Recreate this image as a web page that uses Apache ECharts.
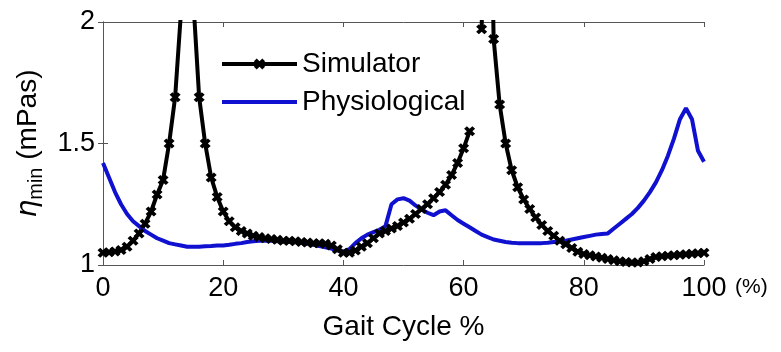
<!DOCTYPE html>
<html>
<head>
<meta charset="utf-8">
<script src="https://cdn.jsdelivr.net/npm/echarts@6/dist/echarts.min.js"></script>
<style>
  html, body { margin: 0; padding: 0; background: #fff; }
  #chart { width: 781px; height: 352px; }
</style>
</head>
<body>
<div id="chart"></div>
<script>
// gait cycle positions (%), one sample per percent
const gaitCycle = Array.from({ length: 101 }, (_, i) => i)

// simulator eta_min (mPas); values > 2 leave the plot
const simulator = [
  1.05, 1.052, 1.056, 1.062, 1.075, 1.10, 1.13, 1.17, 1.22, 1.29,
  1.35, 1.50, 1.69, 2.05, 3.00, 2.10, 1.69, 1.50, 1.36, 1.28,
  1.22, 1.18, 1.155, 1.14, 1.13, 1.12, 1.115, 1.11, 1.107, 1.104,
  1.10, 1.10, 1.098, 1.095, 1.093, 1.09, 1.09, 1.087, 1.08, 1.065,
  1.05, 1.05, 1.06, 1.075, 1.09, 1.11, 1.13, 1.14, 1.15, 1.16,
  1.175, 1.19, 1.21, 1.23, 1.25, 1.275, 1.30, 1.33, 1.37, 1.42,
  1.48, 1.55, null, 1.97, 3.20, 1.93, 1.66, 1.50, 1.39, 1.32,
  1.27, 1.23, 1.195, 1.165, 1.14, 1.12, 1.10, 1.085, 1.07, 1.055,
  1.045, 1.04, 1.035, 1.03, 1.025, 1.02, 1.015, 1.012, 1.01, 1.01,
  1.015, 1.025, 1.033, 1.036, 1.038, 1.04, 1.042, 1.044, 1.046, 1.048,
  1.05
]

// physiological eta_min (mPas)
const physiological = [
  1.42, 1.36, 1.30, 1.25, 1.21, 1.18, 1.16, 1.14, 1.125, 1.11,
  1.10, 1.09, 1.085, 1.08, 1.075, 1.075, 1.075, 1.077, 1.078, 1.08,
  1.08, 1.083, 1.087, 1.09, 1.095, 1.098, 1.10, 1.10, 1.10, 1.098,
  1.096, 1.095, 1.094, 1.09, 1.087, 1.083, 1.078, 1.073, 1.068, 1.06,
  1.055, 1.065, 1.09, 1.11, 1.125, 1.135, 1.145, 1.16, 1.25, 1.27,
  1.275, 1.265, 1.245, 1.228, 1.215, 1.205, 1.22, 1.225, 1.205, 1.185,
  1.17, 1.155, 1.14, 1.125, 1.115, 1.105, 1.10, 1.095, 1.092, 1.09,
  1.09, 1.09, 1.09, 1.09, 1.092, 1.095, 1.097, 1.10, 1.105, 1.11,
  1.115, 1.12, 1.125, 1.128, 1.13, 1.15, 1.17, 1.19, 1.21, 1.235,
  1.265, 1.30, 1.34, 1.39, 1.45, 1.52, 1.60, 1.645, 1.60, 1.47,
  1.425
]

const seriesNames = ['Simulator', 'Physiological']
const font = 'Liberation Sans, Arial, sans-serif'
const axisColor = '#555'
const blue = '#1010d0'

const pair = (vals) => gaitCycle.map((g, i) => [g, vals[i] === null ? '-' : vals[i]])

// bold cross marker, like the matlab one
const crossMark = 'path://M0,3 L3,0 L6,3 L9,0 L12,3 L9,6 L12,9 L9,12 L6,9 L3,12 L0,9 L3,6 Z'

const tickStyle = { inside: true, length: 5, lineStyle: { color: axisColor } }
const lineStyle = { show: true, lineStyle: { color: axisColor, width: 1 } }

let chart = echarts.init(document.getElementById('chart'))

let option = {
  animation: false,
  textStyle: { fontFamily: font },
  grid: { left: 103, right: 77, top: 22, bottom: 87, outerBoundsMode: 'none', containLabel: false },
  legend: {
    data: [
      { name: seriesNames[0] },
      { name: seriesNames[1], itemStyle: { opacity: 0 } },
    ],
    orient: 'vertical',
    left: 220,
    top: 50,
    padding: 0,
    itemWidth: 75,
    itemHeight: 14,
    itemGap: 10,
    lineStyle: { width: 4 },
    textStyle: { fontSize: 28, color: '#000', fontFamily: font },
  },
  xAxis: [
    {
      type: 'value',
      min: 0,
      max: 100,
      interval: 20,
      position: 'bottom',
      axisLine: lineStyle,
      axisTick: tickStyle,
      splitLine: { show: false },
      axisLabel: { color: '#000', fontSize: 27, margin: 10 },
      name: 'Gait Cycle %',
      nameLocation: 'middle',
      nameGap: 48,
      nameTextStyle: { fontSize: 28, color: '#000' },
    },
    {
      type: 'value',
      min: 0,
      max: 100,
      interval: 20,
      position: 'top',
      axisLine: lineStyle,
      axisTick: tickStyle,
      splitLine: { show: false },
      axisLabel: { show: false },
    },
  ],
  yAxis: [
    {
      type: 'value',
      min: 1,
      max: 2,
      interval: 0.5,
      axisLine: lineStyle,
      axisTick: tickStyle,
      splitLine: { show: false },
      axisLabel: { color: '#000', fontSize: 27, margin: 8 },
      name: '{e|η}{s|min}{t| (mPas)}',
      nameLocation: 'middle',
      nameGap: 48,
      nameTextStyle: {
        color: '#000',
        rich: {
          e: { fontSize: 28, fontStyle: 'italic', fontFamily: 'DejaVu Sans', lineHeight: 32, verticalAlign: 'top' },
          s: { fontSize: 20, lineHeight: 20, padding: [28, 0, 0, 0], verticalAlign: 'bottom' },
          t: { fontSize: 28, lineHeight: 32, verticalAlign: 'top' },
        },
      },
    },
    {
      type: 'value',
      min: 1,
      max: 2,
      interval: 0.5,
      position: 'right',
      axisLine: lineStyle,
      axisTick: tickStyle,
      splitLine: { show: false },
      axisLabel: { show: false },
    },
  ],
  graphic: [
    {
      type: 'text',
      left: 735,
      top: 277,
      style: { text: '(%)', fontSize: 21, fill: '#000', fontFamily: font },
    },
  ],
  series: [
    {
      name: seriesNames[0],
      type: 'line',
      data: pair(simulator),
      connectNulls: false,
      clip: true,
      symbol: crossMark,
      symbolSize: [11, 10],
      showAllSymbol: true,
      lineStyle: { color: '#000', width: 4 },
      itemStyle: { color: '#000' },
    },
    {
      name: seriesNames[1],
      type: 'line',
      data: pair(physiological),
      clip: true,
      showSymbol: false,
      symbol: 'none',
      lineStyle: { color: blue, width: 4 },
      itemStyle: { color: blue },
    },
  ],
}
chart.setOption(option)
</script>
</body>
</html>
